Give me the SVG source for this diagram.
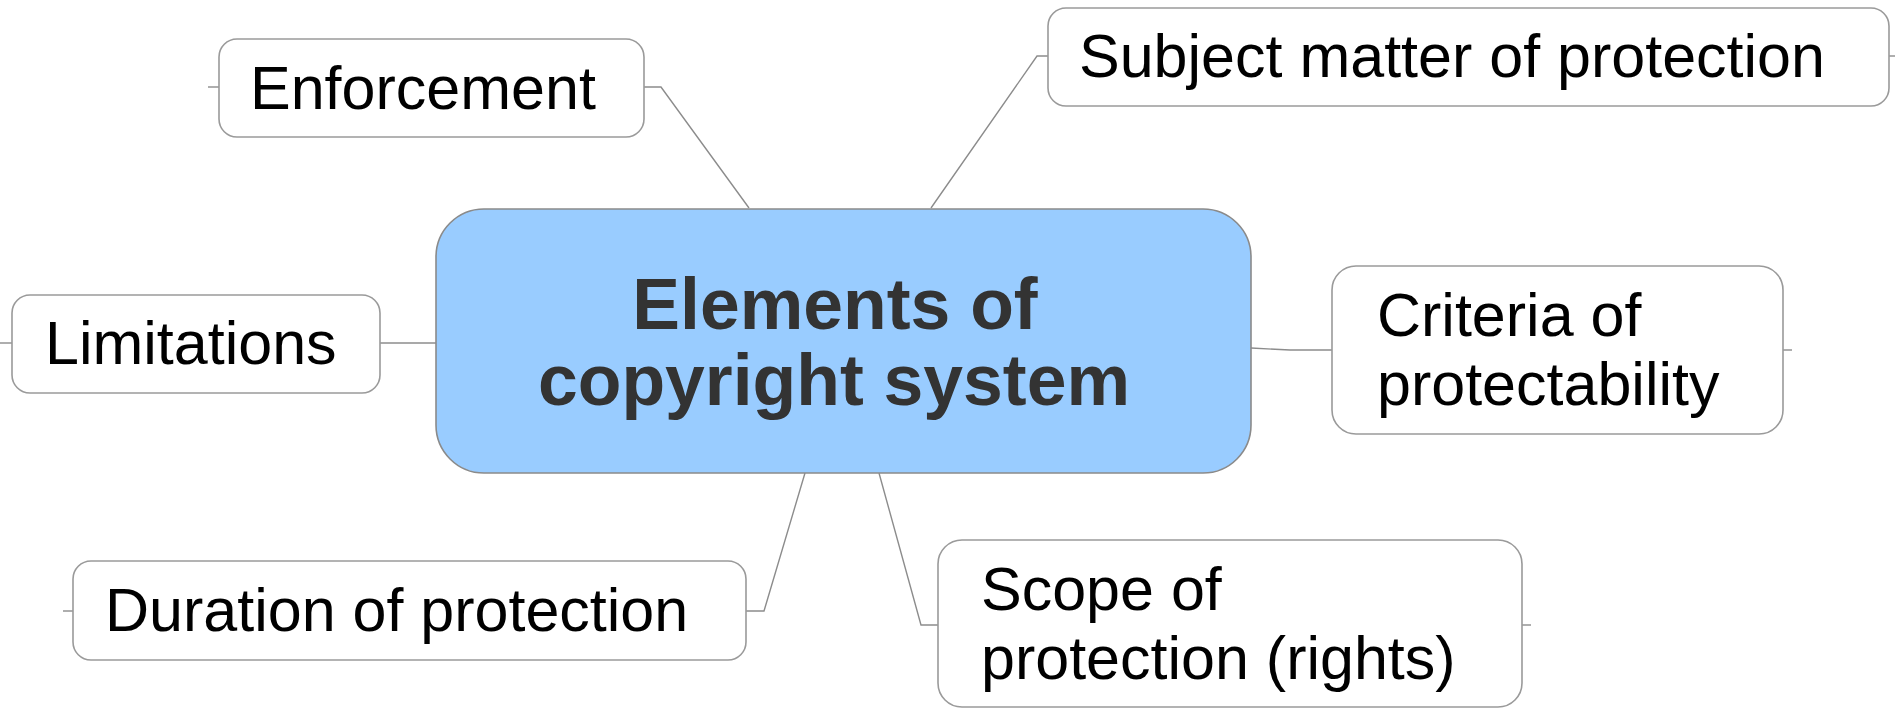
<svg xmlns="http://www.w3.org/2000/svg" width="1895" height="708" viewBox="0 0 1895 708">
<style>
.box{fill:#ffffff;stroke:#9a9a9a;stroke-width:1.6}
.main{fill:#99ccff;stroke:#8a8a8a;stroke-width:1.6}
.lbl{font-family:"Liberation Sans",Arial,sans-serif;font-size:61px;fill:#000000}
.title{font-family:"Liberation Sans",Arial,sans-serif;font-size:71.5px;font-weight:bold;fill:#333333;text-anchor:middle}
.conn{fill:none;stroke:#8c8c8c;stroke-width:1.4}
</style>
<rect width="1895" height="708" fill="#ffffff"/>
<g id="connectors">
<path class="conn" d="M208,87 H219"/>
<path class="conn" d="M644,87 H661 L749,208"/>
<path class="conn" d="M931,208 L1037,56 H1048"/>
<path class="conn" d="M1889,56 H1895"/>
<path class="conn" d="M0,343 H12"/>
<path class="conn" d="M380,343 H436"/>
<path class="conn" d="M1251,348 L1290,350 H1332"/>
<path class="conn" d="M1783,350 H1792"/>
<path class="conn" d="M63,611 H73"/>
<path class="conn" d="M746,611 H764 L805,473"/>
<path class="conn" d="M879,473 L921,625 H938"/>
<path class="conn" d="M1522,625 H1531"/>
</g>
<g id="central">
<rect class="main" x="436" y="209" width="815" height="264" rx="48" ry="48"/>
<text class="title" x="835" y="329">Elements of</text>
<text class="title" x="834" y="405">copyright system</text>
</g>
<g id="enforcement">
<rect class="box" x="219" y="39" width="425" height="98" rx="18" ry="18"/>
<text class="lbl" x="250" y="109">Enforcement</text>
</g>
<g id="subject">
<rect class="box" x="1048" y="8" width="841" height="98" rx="18" ry="18"/>
<text class="lbl" x="1079" y="77">Subject matter of protection</text>
</g>
<g id="limitations">
<rect class="box" x="12" y="295" width="368" height="98" rx="18" ry="18"/>
<text class="lbl" x="45" y="364">Limitations</text>
</g>
<g id="criteria">
<rect class="box" x="1332" y="266" width="451" height="168" rx="24" ry="24"/>
<text class="lbl" x="1377" y="336">Criteria of</text>
<text class="lbl" x="1377" y="405">protectability</text>
</g>
<g id="duration">
<rect class="box" x="73" y="561" width="673" height="99" rx="18" ry="18"/>
<text class="lbl" x="105" y="631">Duration of protection</text>
</g>
<g id="scope">
<rect class="box" x="938" y="540" width="584" height="167" rx="24" ry="24"/>
<text class="lbl" x="981" y="610">Scope of</text>
<text class="lbl" x="981" y="679">protection (rights)</text>
</g>
</svg>
